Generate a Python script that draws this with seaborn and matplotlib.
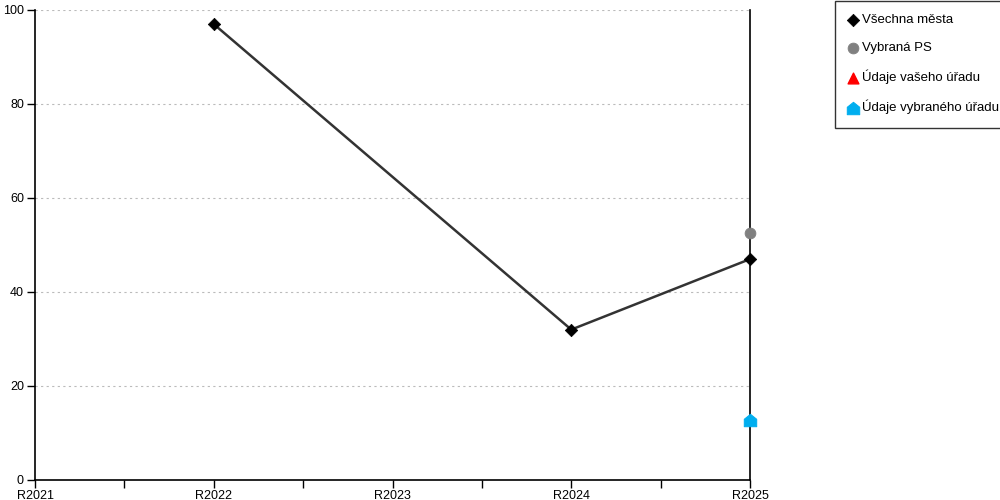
import matplotlib
matplotlib.use('Agg')
import matplotlib.pyplot as plt
import seaborn as sns
import pandas as pd
from matplotlib.path import Path as MPath

years = ['R2021', 'R2022', 'R2023', 'R2024', 'R2025']

# series values (None = no data)
vsechna_mesta = [None, 97, None, 32, 47]
vybrana_ps = [None, None, None, None, 52.5]
vaseho_uradu = [None, None, None, None, None]
vybraneho_uradu = [None, None, None, None, 12.8]

sns.set_theme(style='white')
plt.rcParams['font.family'] = ['Liberation Sans', 'DejaVu Sans']
plt.rcParams['text.color'] = 'black'


def to_frame(values):
    df = pd.DataFrame({'x': range(len(years)), 'y': values})
    return df.dropna()


house = MPath([(-1, -1), (1, -1), (1, 0.2), (0, 1), (-1, 0.2), (-1, -1)],
              [MPath.MOVETO, MPath.LINETO, MPath.LINETO, MPath.LINETO, MPath.LINETO, MPath.CLOSEPOLY])

fig = plt.figure(figsize=(10, 5), dpi=100)
ax = fig.add_axes([0.035, 0.04, 0.715, 0.94])

mesta = to_frame(vsechna_mesta)
ax.plot(mesta['x'], mesta['y'], color='#333333', linewidth=1.8, zorder=2)
sns.scatterplot(data=mesta, x='x', y='y', marker='D', color='black', s=40,
                edgecolor='black', ax=ax, zorder=3, label='Všechna města', clip_on=False)
sns.scatterplot(data=to_frame(vybrana_ps), x='x', y='y', marker='o', color='#808080', s=60,
                edgecolor='#808080', ax=ax, zorder=3, label='Vybraná PS', clip_on=False)
vas = to_frame(vaseho_uradu)
ax.scatter(vas['x'], vas['y'], marker='^', color='red', s=60, zorder=3,
           label='Údaje vašeho úřadu', clip_on=False)
sns.scatterplot(data=to_frame(vybraneho_uradu), x='x', y='y', marker=house, color='#00aeef', s=80,
                edgecolor='#00aeef', ax=ax, zorder=3, label='Údaje vybraného úřadu', clip_on=False)

ax.set_xlim(0, 4)
ax.set_ylim(0, 100)
ax.set_xticks(range(len(years)))
ax.set_xticklabels(years)
ax.set_xticks([0.5, 1.5, 2.5, 3.5], minor=True)
ax.set_yticks([0, 20, 40, 60, 80, 100])
ax.set_xlabel('')
ax.set_ylabel('')
ax.yaxis.grid(True, linestyle=(0, (2, 3)), color='#bbbbbb', linewidth=0.8)
ax.set_axisbelow(True)

for side in ['left', 'bottom', 'right']:
    ax.spines[side].set_visible(True)
    ax.spines[side].set_color('black')
    ax.spines[side].set_linewidth(1.2)
ax.spines['top'].set_visible(False)

ax.tick_params(axis='x', which='both', direction='out', length=6, width=1, color='black',
               bottom=True, labelsize=9, pad=1, labelcolor='black')
ax.tick_params(axis='y', direction='out', length=6, width=1, color='black', left=True,
               labelsize=9, pad=2, labelcolor='black')

handles, labels = ax.get_legend_handles_labels()
ax.get_legend().remove()
leg = fig.legend(handles, labels, loc='upper left', bbox_to_anchor=(0.835, 0.998),
                 frameon=True, fancybox=False, edgecolor='black', fontsize=9.5,
                 labelspacing=1.18, handletextpad=0.25, handlelength=0.8, borderpad=1.0,
                 borderaxespad=0)
leg.get_frame().set_linewidth(1.0)
for t in leg.get_texts():
    t.set_color('black')

fig.savefig('out.png', dpi=100)
